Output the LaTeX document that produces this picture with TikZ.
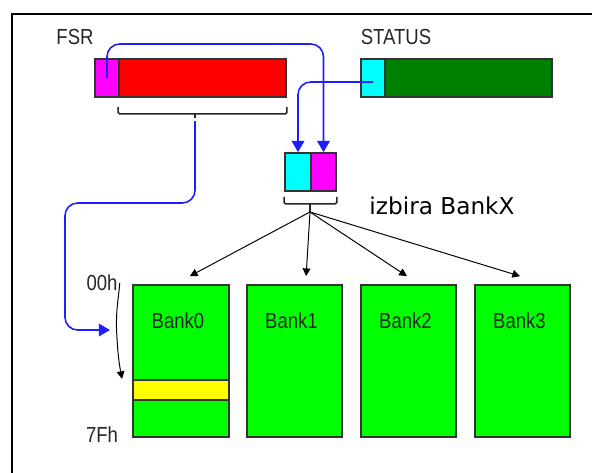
\documentclass[tikz,border=0pt]{standalone}
\usepackage{fontspec}
\setmainfont{Liberation Sans}
\newfontfamily\regfont[FakeStretch=0.85]{Liberation Sans}
\newfontfamily\notefont{DejaVu Sans}
\usetikzlibrary{arrows.meta,calc}

\definecolor{bitred}{RGB}{255,0,0}
\definecolor{bitmag}{RGB}{255,0,255}
\definecolor{bitcyan}{RGB}{0,255,255}
\definecolor{statgreen}{RGB}{0,128,0}
\definecolor{bankgreen}{RGB}{0,255,0}
\definecolor{rowyellow}{RGB}{255,255,0}
\definecolor{ptrblue}{RGB}{30,30,255}

\tikzset{
    reg/.style={draw=black!80,line width=1.2pt,minimum height=0.95cm,inner sep=0pt},
    bank/.style={draw=black!80,line width=1.2pt,fill=bankgreen,minimum width=2.4cm,minimum height=3.8cm,inner sep=0pt},
    lbl/.style={font=\regfont\fontsize{15.5}{15.5}\selectfont,text=black!85,inner sep=0pt},
    brace/.style={draw=black!85,line width=1.1pt,rounded corners=1pt},
    ptr/.style={draw=ptrblue,line width=1.1pt,rounded corners=9pt,-{Triangle[length=8pt,width=9pt]}},
    sel/.style={draw=black,line width=0.7pt,-{Triangle[length=5.5pt,width=5.5pt]}}
}

\begin{document}
\begin{tikzpicture}[x=0.025cm,y=-0.025cm]
\useasboundingbox (0,0) rectangle (592,473);
\draw[line width=1.6pt] (12,473) -- (12,14) -- (592,14);

% registers
\node[lbl] (fsrlbl) at (75,37) {FSR};
\node[reg,fill=bitmag,minimum width=0.6cm] (fsrbank) at (107,78) {};
\node[reg,fill=bitred,minimum width=4.175cm] (fsrreg) at (202.5,78) {};
\node[lbl] (statlbl) at (396,37) {STATUS};
\node[reg,fill=bitcyan,minimum width=0.6cm] (stbank) at (373,78) {};
\node[reg,fill=statgreen,minimum width=4.175cm] (streg) at (468.5,78) {};

% bank select bits
\node[reg,fill=bitcyan,minimum width=0.65cm] (selst) at (298,172) {};
\node[reg,fill=bitmag,minimum width=0.625cm] (selfsr) at (323.5,172) {};
\node[font=\notefont\fontsize{16.5}{16.5}\selectfont,inner sep=0pt] (note) at (442,206) {izbira BankX};

% banks
\node[bank] (bank0) at (181,361) {};
\node[bank,minimum width=2.375cm] (bank1) at (294.5,361) {};
\node[bank,minimum width=2.375cm] (bank2) at (408.5,361) {};
\node[bank,minimum width=2.375cm] (bank3) at (522.5,361) {};
\node[draw=black!80,line width=1.2pt,fill=rowyellow,minimum width=2.4cm,minimum height=0.5cm,inner sep=0pt] (row) at (181,390) {};
\foreach \b in {0,1,2,3}
    \node[lbl] at ($(bank\b.north)+(-3,37)$) {Bank\b};
\node[lbl] (lbl00) at (102,283) {00h};
\node[lbl] (lbl7f) at (102,435) {7Fh};

% braces
\draw[brace] ($(fsrreg.south west)+(0,9)$) -- ++(0,7) -- ($(fsrreg.south east)+(0,16)$) -- ++(0,-7);
\draw[brace] (195,113) -- (195,118);
\coordinate (fsrtip) at (195,121);
\draw[brace] ($(selst.south west)+(0,5)$) -- ++(0,7) -- ($(selfsr.south east)+(0,12)$) -- ++(0,-7);
\coordinate (seltip) at (310,212);
\draw[brace] (310,203) -- (seltip);

% pointers
\coordinate (rowin) at (110,330);
\coordinate (rowptr) at (122,379);
\draw[ptr] (fsrbank.center) -- (fsrbank |- 0,44) -- (selfsr |- 0,44) -- (selfsr.north);
\draw[ptr] ([yshift=-0.1cm]stbank.center) -- (selst |- 0,82) -- (selst.north);
\draw[ptr] (fsrtip) -- (195,203) -- (65,203) -- (65,330) -- (rowin);
\draw[sel] ([xshift=0.05cm]lbl00.east) .. controls (119,296) and (115,312) .. (117,338) .. controls (118,358) and (120,368) .. (rowptr);

\draw[sel] (seltip) -- ([xshift=0.22cm,yshift=0.2cm]bank0.north);
\draw[sel] (seltip) -- ([xshift=0.29cm,yshift=0.2cm]bank1.north);
\draw[sel] (seltip) -- ([xshift=-0.04cm,yshift=0.2cm]bank2.north);
\draw[sel] (seltip) -- ([xshift=-0.06cm,yshift=0.2cm]bank3.north);
\end{tikzpicture}
\end{document}
